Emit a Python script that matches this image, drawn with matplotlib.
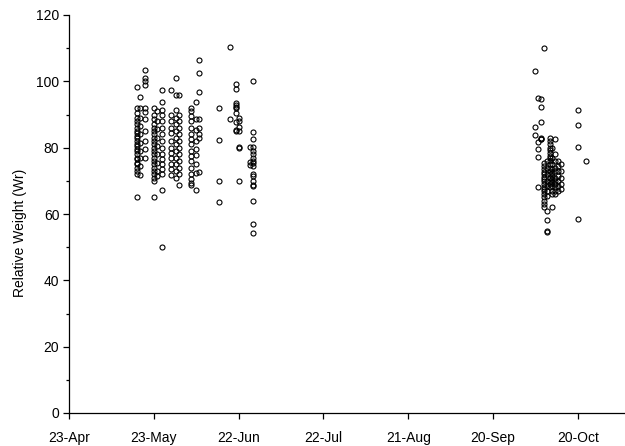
import matplotlib
matplotlib.use("Agg")
import matplotlib.pyplot as plt
import matplotlib.dates as mdates
from matplotlib.ticker import MultipleLocator
import datetime as dt

plt.rcParams['font.family'] = ['Liberation Sans', 'DejaVu Sans']

# Sample dates and relative weight (Wr) values per date
sample_dates = [
    "2003-05-17", "2003-05-18", "2003-05-20", "2003-05-23", "2003-05-24",
    "2003-05-26", "2003-05-29", "2003-05-31", "2003-06-01", "2003-06-05",
    "2003-06-07", "2003-06-08", "2003-06-15", "2003-06-19", "2003-06-21",
    "2003-06-22", "2003-06-26", "2003-06-27",
    "2003-10-05", "2003-10-06", "2003-10-07", "2003-10-08", "2003-10-09",
    "2003-10-10", "2003-10-11", "2003-10-12", "2003-10-13", "2003-10-14",
    "2003-10-20", "2003-10-23",
]

wr_by_date = [
    [98.4, 92, 90.5, 89, 88, 87, 86, 85, 84.5, 83.5, 83, 82, 81, 80.5, 79.5, 79, 78, 77, 76.5, 75.5, 75, 74, 73, 72, 65.2],
    [95.3, 92, 89, 86.5, 84, 81.5, 79, 77, 74.5, 71.7],
    [103.4, 101, 100, 99, 92, 90.8, 88.5, 85, 82, 79.5, 77],
    [92, 90, 88.5, 87, 86, 85, 84, 83, 82, 81, 80, 79, 78, 77, 76, 75, 74, 73, 72, 71, 70, 65.2],
    [91, 88, 85.5, 83, 80.5, 78, 75.5, 73, 71.5],
    [97.4, 93.8, 91.5, 90, 88, 86, 84, 82, 80, 78, 76.5, 75, 73.5, 72, 67.2, 50.1],
    [97.4, 89.8, 88, 86, 84.5, 82, 80, 78.5, 77, 75, 73.5, 71.7],
    [100.9, 96, 91.3, 89, 87, 85, 83, 81, 79, 77, 75, 73, 71],
    [96, 90, 88, 86, 84, 82, 80, 78, 76, 74, 72, 68.7],
    [92, 91, 89.5, 88, 86, 84, 82.5, 81, 79, 77.5, 76, 74, 72, 70.5, 69.2, 68.7],
    [93.9, 88.5, 85.4, 82, 79.5, 77.8, 75, 72.5, 67.1],
    [106.5, 102.4, 96.9, 88.7, 86, 84, 83, 72.7],
    [91.9, 82.3, 69.8, 63.5],
    [110.3, 88.6],
    [99.2, 97.6, 93.4, 92.9, 92.4, 91.9, 90.4, 87.6, 85.4, 85.0],
    [88.9, 87.9, 86.2, 84.9, 80.3, 80.0, 69.8],
    [80.1, 75.8, 74.8],
    [100.2, 84.7, 82.7, 80.1, 79, 78, 77, 76, 75.5, 74.5, 72, 71.5, 70, 68.8, 68.3, 64, 56.9, 54.4],
    [103.0, 86.2, 83.9],
    [94.9, 81.8, 79.6, 77.1, 68.0],
    [94.7, 92.4, 87.7, 82.9, 82.7, 82.5],
    [110.0, 75.3, 74.5, 73.5, 72.8, 72, 71.2, 70.5, 69.8, 69, 68.2, 67.5, 66.8, 66, 65, 64, 63, 62.2],
    [76, 74, 72, 70, 68.5, 67, 65.5, 60.9, 58.2, 54.9, 54.5],
    [82.9, 82, 81, 80, 79.2, 78.4, 77.6, 76.8, 76, 75, 74, 73, 72, 71, 70, 69, 68],
    [80, 77, 75, 73.5, 72.5, 71.5, 70.5, 69.5, 68.5, 67, 66, 62.2],
    [82.5, 78, 76, 74, 73, 71, 70, 69, 68, 67, 66],
    [76, 74.5, 73, 71.5, 70, 68.5, 67],
    [75, 73, 71, 69, 67.5],
    [91.4, 86.7, 80.3, 58.5],
    [76.1],
]

x_tick_labels = ["23-Apr", "23-May", "22-Jun", "22-Jul", "21-Aug", "20-Sep", "20-Oct"]

xs, ys = [], []
for d, vals in zip(sample_dates, wr_by_date):
    day = dt.datetime.strptime(d, "%Y-%m-%d")
    for v in vals:
        xs.append(day)
        ys.append(v)

fig = plt.figure(figsize=(6.25, 4.46), dpi=100)
ax = fig.add_axes([69/625, 1 - 413/446, (625 - 69)/625, (413 - 15)/446])

ax.plot(xs, ys, linestyle='none', marker='o', markersize=3.6,
        markerfacecolor='none', markeredgecolor='black', markeredgewidth=0.8)

start = dt.datetime(2003, 4, 23)
ax.set_xlim(start, start + dt.timedelta(days=196.7))
ax.set_ylim(0, 120)

tick_pos = [start + dt.timedelta(days=30 * i) for i in range(len(x_tick_labels))]
ax.set_xticks(tick_pos)
ax.set_xticklabels(x_tick_labels)
ax.yaxis.set_major_locator(MultipleLocator(20))
ax.yaxis.set_minor_locator(MultipleLocator(10))

for s in ['top', 'right']:
    ax.spines[s].set_visible(False)
for s in ['left', 'bottom']:
    ax.spines[s].set_linewidth(0.9)

ax.tick_params(axis='both', which='major', direction='out', length=4, width=0.9,
               labelsize=10, colors='black')
ax.tick_params(axis='x', which='major', pad=9)
ax.tick_params(axis='y', which='major', pad=3)
ax.tick_params(axis='y', which='minor', direction='out', length=2.5, width=0.9)

ax.set_ylabel("Relative Weight (Wr)", fontsize=10)
ax.yaxis.set_label_coords(-0.076, 0.452)

fig.savefig("out.png", dpi=100)
